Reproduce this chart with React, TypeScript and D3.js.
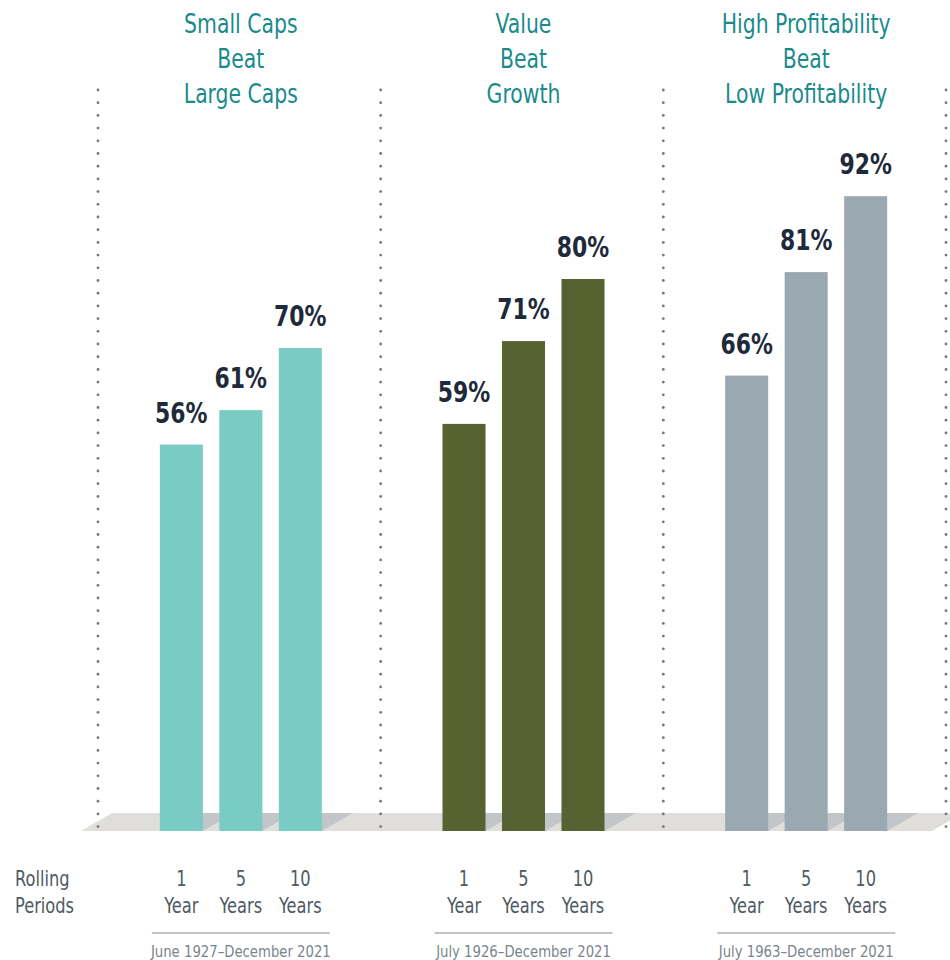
import * as d3 from "d3";

const groups = ["size", "value", "profitability"];
const groupTitles = [
  ["Small Caps", "Beat", "Large Caps"],
  ["Value", "Beat", "Growth"],
  ["High Profitability", "Beat", "Low Profitability"],
];
const periodNumbers = ["1", "5", "10"];
const periodUnits = ["Year", "Years", "Years"];
const sizeValues = [56, 61, 70];
const valueValues = [59, 71, 80];
const profitValues = [66, 81, 92];
const dateRanges = [
  "June 1927\u2013December 2021",
  "July 1926\u2013December 2021",
  "July 1963\u2013December 2021",
];
const barColors = ["#79cbc3", "#566232", "#9aa8b1"];

const allValues = [sizeValues, valueValues, profitValues];

const W = 950;
const H = 960;
const baseY = 831;
const depthX = 31;
const depthY = 18;
const FONT = "'DejaVu Sans Condensed', 'DejaVu Sans', sans-serif";

// condensed text: squeeze horizontally around the anchor point
function NText({ x, y, sx, anchor = "middle", children, ...rest }: any) {
  return (
    <text transform={`translate(${x},${y}) scale(${sx},1)`} textAnchor={anchor} {...rest}>
      {children}
    </text>
  );
}

export default function App() {
  const xGroup = d3.scaleBand().domain(groups).range([99.5, 947.5]);
  const xBar = d3.scaleBand().domain(periodNumbers).range([-81, 81]).paddingInner(0.277);
  const y = d3.scaleLinear().domain([0, 100]).range([baseY, 141]);

  const dividerXs = [...groups.map((g) => xGroup(g)! - 1.5), xGroup.range()[1] - 1.5];
  const dotYs = d3.range(90, 828, 12.7);

  return (
    <svg width={W} height={H} style={{ position: "absolute", left: 0, top: 0 }} fontFamily={FONT}>
      {/* floor */}
      <polygon
        points={`81,${baseY} 932,${baseY} ${932 + depthX},${baseY - depthY} ${81 + depthX},${baseY - depthY}`}
        fill="#dfdedb"
      />
      {groups.map((g, gi) => {
        const cx = xGroup(g)! + xGroup.bandwidth() / 2;
        const vals = allValues[gi];
        return (
          <g key={g}>
            {periodNumbers.map((p) => {
              const x0 = cx + xBar(p)!;
              const x1 = x0 + xBar.bandwidth();
              return (
                <polygon
                  key={"s" + p}
                  points={`${x0},${baseY} ${x1},${baseY} ${x1 + depthX},${baseY - depthY} ${x0 + depthX},${baseY - depthY}`}
                  fill="#c3c6c9"
                />
              );
            })}
            {periodNumbers.map((p, i) => {
              const x0 = cx + xBar(p)!;
              const bw = xBar.bandwidth();
              return (
                <g key={"b" + p}>
                  <rect x={x0} y={y(vals[i])} width={bw} height={baseY - y(vals[i])} fill={barColors[gi]} />
                  <NText x={x0 + bw / 2} y={y(vals[i]) - 22} sx={0.87} fontSize={28} fontWeight="bold" fill="#1e2a3a">
                    {vals[i]}%
                  </NText>
                  <NText x={x0 + bw / 2} y={886} sx={0.86} fontSize={21} fill="#4f5a63">
                    {p}
                  </NText>
                  <NText x={x0 + bw / 2} y={913} sx={0.86} fontSize={21} fill="#4f5a63">
                    {periodUnits[i]}
                  </NText>
                </g>
              );
            })}
            {groupTitles[gi].map((t, li) => (
              <NText key={t + li} x={cx} y={33 + li * 35} sx={0.84} fontSize={27} fill="#1a8a8c">
                {t}
              </NText>
            ))}
            <line x1={cx - 89} x2={cx + 89} y1={933} y2={933} stroke="#a9b0b5" strokeWidth={1.5} />
            <NText x={cx} y={957} sx={0.92} fontSize={16} fill="#7a848c">
              {dateRanges[gi]}
            </NText>
          </g>
        );
      })}
      {dividerXs.map((dx, i) => (
        <g key={"d" + i}>
          {dotYs.map((dy) => (
            <circle key={dy} cx={dx} cy={dy} r={1.4} fill="#777" />
          ))}
        </g>
      ))}
      <NText x={15} y={886} sx={0.86} anchor="start" fontSize={21} fill="#4f5a63">Rolling</NText>
      <NText x={15} y={913} sx={0.86} anchor="start" fontSize={21} fill="#4f5a63">Periods</NText>
    </svg>
  );
}
